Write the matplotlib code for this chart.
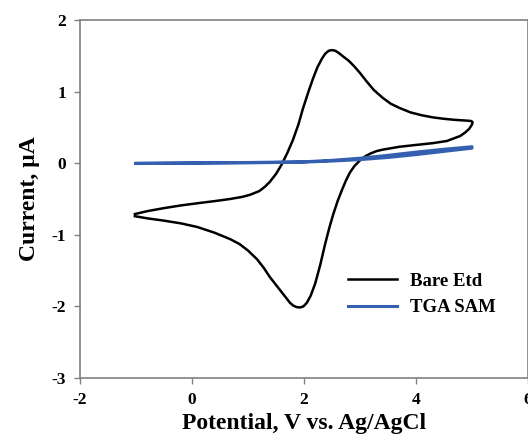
import matplotlib.pyplot as plt

# Bare electrode CV (forward scan -1 -> 5 V, then reverse 5 -> -1 V)
bare_v = [-1.02, -0.8, -0.52, -0.2, 0.09, 0.4, 0.68, 0.9, 1.04, 1.2, 1.3, 1.39, 1.5, 1.6,
          1.7, 1.8, 1.9, 1.98, 2.08, 2.16, 2.24, 2.32, 2.38, 2.44, 2.5, 2.56, 2.62,
          2.7, 2.8, 2.9, 3.0, 3.12, 3.25, 3.41, 3.55, 3.71, 3.9, 4.1, 4.3, 4.5, 4.7,
          4.9, 4.98, 5.01, 5.0,
          4.95, 4.88, 4.79, 4.55, 4.3, 4.0, 3.71, 3.41, 3.3, 3.2, 3.1, 3.0, 2.9, 2.82,
          2.75, 2.68, 2.6, 2.52, 2.46, 2.38, 2.29, 2.2, 2.12, 2.05, 1.99, 1.93, 1.87,
          1.81, 1.75, 1.68, 1.6, 1.5, 1.39, 1.28, 1.16, 1.0, 0.85, 0.68, 0.4, 0.09,
          -0.2, -0.52, -0.8, -1.02]
bare_i = [-0.71, -0.67, -0.63, -0.59, -0.56, -0.53, -0.50, -0.47, -0.44, -0.39, -0.33,
          -0.26, -0.15, -0.02, 0.14, 0.32, 0.54, 0.76, 1.0, 1.18, 1.34, 1.46, 1.53,
          1.57, 1.58, 1.57, 1.54, 1.49, 1.43, 1.35, 1.26, 1.14, 1.02, 0.91, 0.83,
          0.77, 0.71, 0.67, 0.64, 0.62, 0.605, 0.595, 0.59, 0.575, 0.54,
          0.48, 0.43, 0.38, 0.31, 0.28, 0.255, 0.23, 0.19, 0.17, 0.14, 0.1, 0.04,
          -0.04, -0.13, -0.24, -0.37, -0.53, -0.72, -0.88, -1.12, -1.42, -1.68,
          -1.85, -1.95, -2.0, -2.015, -2.01, -1.99, -1.95, -1.88, -1.8, -1.7, -1.59,
          -1.46, -1.34, -1.22, -1.13, -1.06, -0.97, -0.89, -0.84, -0.80, -0.77,
          -0.74]

# TGA SAM electrode CV
sam_v = [-1.0, 0.0, 1.0, 1.5, 2.0, 2.5, 3.0, 3.5, 4.0, 4.5, 5.0,
         5.0, 4.5, 4.0, 3.5, 3.0, 2.5, 2.0, 1.0, 0.0, -1.0]
sam_i = [0.0, 0.005, 0.01, 0.015, 0.02, 0.04, 0.07, 0.11, 0.155, 0.195, 0.23,
         0.21, 0.165, 0.12, 0.08, 0.05, 0.03, 0.015, 0.005, 0.0, -0.005]

x_ticks = [-2, 0, 2, 4, 6]
y_ticks = [-3, -2, -1, 0, 1, 2]

plt.rcParams['font.family'] = ['Liberation Serif', 'DejaVu Serif']
plt.rcParams['font.weight'] = 'bold'
plt.rcParams['axes.unicode_minus'] = False

fig = plt.figure(figsize=(5.28, 4.42), dpi=100)
ax = fig.add_axes([80 / 528, 64 / 442, 448 / 528, 358 / 442])

ax.plot(bare_v, bare_i, color='black', lw=1.8, label='Bare Etd', solid_joinstyle='round')
ax.plot(sam_v, sam_i, color='#3560b0', lw=2.2, label='TGA SAM', solid_joinstyle='round')

ax.set_xlim(-2, 6)
ax.set_ylim(-3, 2)
ax.set_xticks(x_ticks)
ax.set_yticks(y_ticks)
ax.tick_params(direction='out', length=4, width=1, color='#808080', labelsize=12.5, pad=6)
for lab in ax.get_xticklabels() + ax.get_yticklabels():
    lab.set_fontweight('bold')
for sp in ax.spines.values():
    sp.set_color('#808080')
    sp.set_linewidth(1.2)

ax.set_xlabel('Potential, V vs. Ag/AgCl', fontsize=17, fontweight='bold', labelpad=4)
ax.set_ylabel('Current, µA', fontsize=17, fontweight='bold', labelpad=8)

ax.legend(loc='lower left', bbox_to_anchor=(0.56, 0.125), frameon=False,
          prop={'size': 13.5, 'weight': 'bold'}, handlelength=2.6, handletextpad=0.7,
          labelspacing=0.5)

fig.savefig('out.png', dpi=100)
